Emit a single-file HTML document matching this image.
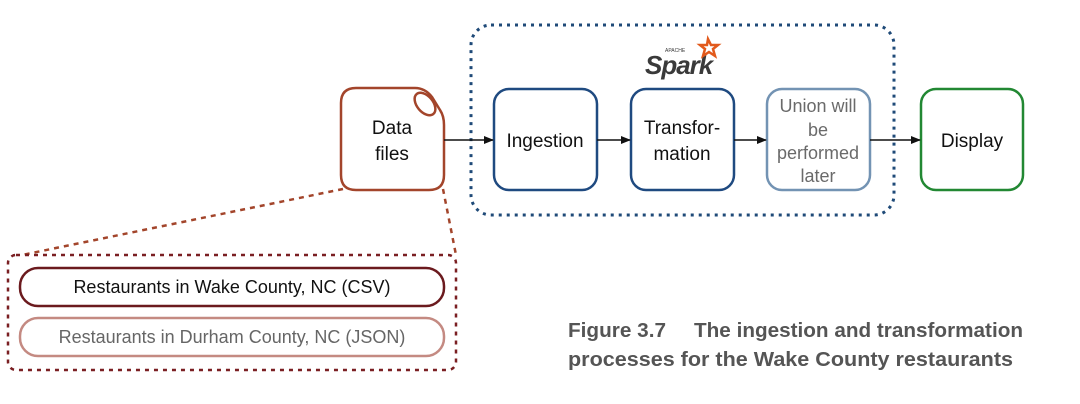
<!DOCTYPE html>
<html><head><style>
html,body{margin:0;padding:0;background:#fff;}
svg{display:block;}
text{font-family:"Liberation Sans",Arial,sans-serif;}
</style></head><body>
<svg width="1080" height="404" viewBox="0 0 1080 404" xmlns="http://www.w3.org/2000/svg">
<defs>
<marker id="ar" markerWidth="10" markerHeight="8" refX="9" refY="4" orient="auto" markerUnits="userSpaceOnUse">
<path d="M0,0 L10,4 L0,8 Z" fill="#111"/></marker>
</defs>
<rect x="471" y="25" width="423" height="190" rx="20" fill="none" stroke="#1f4a78" stroke-width="3" stroke-dasharray="3,5"/>
<text x="645" y="74" font-size="26" font-style="italic" font-weight="bold" fill="#3a3a3a" style="letter-spacing:-1px">Spark</text>
<text x="665" y="52" font-size="5" fill="#3a3a3a">APACHE</text>
<path d="M708,39 l3,6 7,0 -5,4 2,7 -6,-4 -6,4 2,-7 -5,-4 7,0z" fill="none" stroke="#e25a1c" stroke-width="2.5"/>
<path d="M356,88 L415,88 Q425,88 432,97 L440,110 Q444,116 444,125 L444,175 Q444,190 429,190 L356,190 Q341,190 341,175 L341,103 Q341,88 356,88 Z" fill="none" stroke="#a3452b" stroke-width="2.5"/>
<ellipse cx="425" cy="104" rx="8" ry="13" transform="rotate(-40 425 104)" fill="none" stroke="#a3452b" stroke-width="2.5"/>
<text x="392" y="134" font-size="19" text-anchor="middle" fill="#111">Data</text>
<text x="392" y="160" font-size="19" text-anchor="middle" fill="#111">files</text>
<rect x="494" y="89" width="103" height="101" rx="15" fill="none" stroke="#1f4a80" stroke-width="2.5"/>
<text x="545" y="147" font-size="19" text-anchor="middle" fill="#111">Ingestion</text>
<rect x="631" y="89" width="103" height="101" rx="15" fill="none" stroke="#1f4a80" stroke-width="2.5"/>
<text x="682" y="134" font-size="19" text-anchor="middle" fill="#111">Transfor-</text>
<text x="682" y="160" font-size="19" text-anchor="middle" fill="#111">mation</text>
<rect x="767" y="89" width="103" height="101" rx="15" fill="none" stroke="#7393b3" stroke-width="2.5"/>
<text x="818" y="112" font-size="18" text-anchor="middle" fill="#6a6a6a">Union will</text>
<text x="818" y="136" font-size="18" text-anchor="middle" fill="#6a6a6a">be</text>
<text x="818" y="159" font-size="18" text-anchor="middle" fill="#6a6a6a">performed</text>
<text x="818" y="182" font-size="18" text-anchor="middle" fill="#6a6a6a">later</text>
<rect x="921" y="89" width="102" height="101" rx="15" fill="none" stroke="#228833" stroke-width="2.5"/>
<text x="972" y="147" font-size="19" text-anchor="middle" fill="#111">Display</text>
<line x1="444" y1="140" x2="493" y2="140" stroke="#111" stroke-width="1.5" marker-end="url(#ar)"/>
<line x1="597" y1="140" x2="630" y2="140" stroke="#111" stroke-width="1.5" marker-end="url(#ar)"/>
<line x1="734" y1="140" x2="766" y2="140" stroke="#111" stroke-width="1.5" marker-end="url(#ar)"/>
<line x1="870" y1="140" x2="920" y2="140" stroke="#111" stroke-width="1.5" marker-end="url(#ar)"/>
<line x1="343" y1="189" x2="22" y2="255" stroke="#a3452b" stroke-width="2.5" stroke-dasharray="5,5"/>
<line x1="443" y1="189" x2="456" y2="255" stroke="#a3452b" stroke-width="2.5" stroke-dasharray="5,5"/>
<rect x="8" y="255" width="448" height="115" rx="8" fill="none" stroke="#7a1f22" stroke-width="2.5" stroke-dasharray="4,5"/>
<rect x="20" y="268" width="424" height="38" rx="18" fill="none" stroke="#6b1a1e" stroke-width="2.5"/>
<text x="232" y="293" font-size="18" text-anchor="middle" fill="#111">Restaurants in Wake County, NC (CSV)</text>
<rect x="20" y="318" width="424" height="38" rx="18" fill="none" stroke="#c48a82" stroke-width="2.5"/>
<text x="232" y="343" font-size="18" text-anchor="middle" fill="#666">Restaurants in Durham County, NC (JSON)</text>
<text x="568" y="337" font-size="20" font-weight="bold" fill="#555" textLength="98" lengthAdjust="spacingAndGlyphs">Figure 3.7</text>
<text x="694" y="337" font-size="20" font-weight="bold" fill="#555" textLength="329" lengthAdjust="spacingAndGlyphs">The ingestion and transformation</text>
<text x="568" y="366" font-size="20" font-weight="bold" fill="#555" textLength="445" lengthAdjust="spacingAndGlyphs">processes for the Wake County restaurants</text>
</svg>
</body></html>
